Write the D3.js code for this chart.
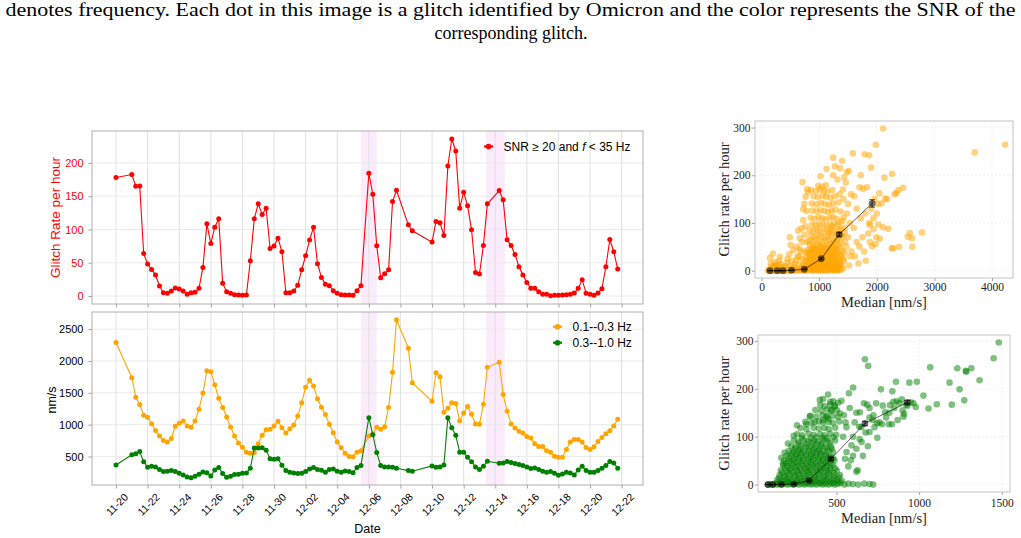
<!DOCTYPE html>
<html>
<head>
<meta charset="utf-8">
<script src="https://cdn.jsdelivr.net/npm/d3@7"></script>
<style>
  body { margin: 0; background: #fff; }
  svg { display: block; }
</style>
</head>
<body>
<div id="f1"></div>
<script>
const W = 1021;
const H = 538;

// ---------------- data ----------------
const captionLines = [
    "denotes frequency. Each dot in this image is a glitch identified by Omicron and the color represents the SNR of the",
    "corresponding glitch."
];

// sample times in days after 11-20 00:00 (6 h cadence, with gaps)
const sampleDays = [
    0,
    1, 1.25, 1.5, 1.75, 2, 2.25, 2.5, 2.75, 3, 3.25, 3.5, 3.75, 4, 4.25, 4.5, 4.75,
    5, 5.25, 5.5, 5.75, 6, 6.25, 6.5, 6.75, 7, 7.25, 7.5, 7.75, 8, 8.25, 8.5, 8.75,
    9, 9.25, 9.5, 9.75, 10, 10.25, 10.5, 10.75, 11, 11.25, 11.5, 11.75, 12, 12.25, 12.5, 12.75,
    13, 13.25, 13.5, 13.75, 14, 14.25, 14.5, 14.75, 15, 15.25, 15.5,
    16, 16.25, 16.5, 16.75, 17, 17.25, 17.5, 17.75,
    18.5, 18.75,
    20, 20.25, 20.5, 20.75, 21, 21.25, 21.5, 21.75, 22, 22.25, 22.5, 22.75, 23, 23.25, 23.5,
    24.25, 24.5, 24.75, 25, 25.25, 25.5, 25.75, 26, 26.25, 26.5, 26.75, 27, 27.25, 27.5, 27.75,
    28, 28.25, 28.5, 28.75, 29, 29.25, 29.5, 29.75, 30, 30.25, 30.5, 30.75, 31, 31.25, 31.5, 31.75
];

// glitch rate (SNR >= 20 and f < 35 Hz), per hour
const glitchRate = [
    178,
    182.5, 165, 165.5, 64, 48, 40, 31.5, 15, 5, 4, 7.5, 12, 10.5, 7.5, 2.5, 5,
    5.5, 11.5, 43, 108.5, 79, 103.5, 116, 19, 6.5, 4, 2, 1.5, 1, 1.5, 53, 116,
    138.5, 122.5, 132, 71.5, 75, 87, 66.5, 5, 5, 7.5, 16, 39.5, 60.5, 84, 103.5, 48.5,
    28, 17.5, 15.5, 8, 4, 2, 1.5, 1.5, 1, 8, 15.5,
    184.5, 153, 75.5, 27.5, 33.5, 39.5, 142, 159,
    107, 98,
    81, 112, 110, 91, 195.5, 236, 218, 132, 156, 135.5, 99.5, 35.5, 33, 76, 138.5,
    158.5, 144.5, 84.5, 76, 62.5, 44, 31.5, 20.5, 11.5, 11.5, 6.5, 2.5, 2.5, 0.5, 1,
    1, 1.5, 2, 2.5, 4.5, 11.5, 24.5, 4, 2.5, 1, 4.5, 11, 44, 85, 66.5, 40.5
];

// ground motion median, 0.1--0.3 Hz band (nm/s)
const medLow = [
    2289,
    1737, 1432, 1316, 1147, 1116, 1016, 910, 821, 753, 726, 784, 974, 1021, 1058, 979, 958,
    1058, 1242, 1495, 1847, 1832, 1626, 1416, 1268, 1121, 963, 821, 711, 647, 568, 553, 563,
    700, 832, 921, 926, 979, 1053, 953, 868, 937, 995, 1137, 1342, 1589, 1695, 1605, 1405,
    1274, 1158, 1005, 874, 726, 637, 553, 500, 495, 568, 590,
    821, 855, 958, 926, 968, 1268, 1821, 2647,
    2200, 1658,
    1368, 1816, 1753, 1195, 1258, 1342, 1332, 1063, 1184, 1284, 1163, 1011, 1005, 1321, 1900,
    1979, 1474, 1211, 1011, 947, 895, 868, 816, 789, 700, 658, 658, 589, 568, 505,
    489, 489, 611, 726, 768, 768, 726, 642, 611, 653, 737, 800, 858, 905, 979, 1084
];

// ground motion median, 0.3--1.0 Hz band (nm/s)
const medHigh = [
    368,
    526, 542, 579, 416, 332, 347, 337, 295, 263, 268, 279, 263, 237, 211, 179, 168,
    189, 221, 258, 247, 195, 289, 326, 232, 174, 189, 216, 221, 237, 242, 316, 632,
    632, 637, 600, 463, 458, 463, 363, 279, 253, 242, 232, 237, 263, 305, 326, 295,
    284, 253, 295, 305, 268, 253, 274, 263, 247, 326, 358,
    1110, 842, 563, 358, 337, 337, 332, 316,
    279, 268,
    353, 332, 337, 368, 1110, 953, 832, 568, 568, 489, 416, 337, 295, 347, 426,
    395, 400, 421, 405, 389, 374, 358, 337, 311, 321, 295, 268, 253, 263, 237,
    205, 226, 253, 242, 211, 289, 347, 279, 253, 253, 279, 316, 358, 421, 400, 316
];

const dateTicks = ["11-20", "11-22", "11-24", "11-26", "11-28", "11-30", "12-02", "12-04",
                   "12-06", "12-08", "12-10", "12-12", "12-14", "12-16", "12-18", "12-20", "12-22"];
const rateTicks = [0, 50, 100, 150, 200];
const nmTicks = [500, 1000, 1500, 2000, 2500];
// highlighted intervals, days after 11-20
const highlightDays = [[15.5, 16.5], [23.42, 24.6]];

const seriesNames = ["SNR \u2265 20 and ", "0.1--0.3 Hz", "0.3--1.0 Hz"];

// scatter: [median nm/s, glitch rate per hour], 0.1--0.3 Hz
const lowScatter = [
    [112,0],[128,2],[146,0],[168,1],[190,0],[214,2],[238,0],[262,1],[290,0],[318,2],[346,0],[372,1],
    [404,0],[432,2],[462,0],[488,1],[516,0],[546,3],[574,1],[604,0],[632,2],[662,1],[690,0],[718,3],
    [748,1],[776,0],[806,2],[834,4],[862,1],[892,0],[920,3],[950,1],[978,0],[1008,4],[1036,1],[1064,0],
    [1094,3],[1122,1],[1150,0],[1180,4],[1208,2],[1236,0],[1266,3],[1294,1],[1322,0],[1352,4],[1384,2],[1418,5],
    [170,8],[220,12],[275,6],[330,14],[390,7],[440,17],[500,9],[560,7],[600,22],[640,12],[680,6],[650,30],
    [145,27],[197,36],[318,29],[300,20],[160,15],[252,10],[205,6],[232,18],[280,12],[352,8],[420,10],[452,25],
    [480,35],[491,70],[503,54],[520,20],[549,43],[582,15],[607,50],[622,30],[665,45],[702,25],[722,14],[760,40],
    [680,40],[700,60],[742,75],[790,60],[665,68],[636,84],[694,89],[763,93],[723,106],[723,129],[742,140],[782,125],
    [711,186],[763,155],[792,171],[802,165],
    [705,3],[742,5],[785,3],[815,5],[845,2],[875,5],[905,3],[935,6],[965,4],[995,2],[1025,6],[1055,3],
    [1085,5],[1115,2],[1145,6],[1175,3],[1205,5],[1235,2],[1265,6],[1295,4],[1325,2],
    [725,11],[770,12],[838,11],[872,12],[905,10],[938,12],[972,11],[1005,10],[1041,12],[1075,11],[1112,10],
    [1146,12],[1178,11],[1212,10],[1246,12],[1280,11],[1318,10],[1352,12],
    [752,20],[812,19],[868,21],[925,20],[988,19],[1048,21],[1108,20],[1170,19],[1228,21],[1292,20],[1358,19],
    [772,29],[838,30],[898,28],[958,30],[1018,29],[1078,28],[1138,30],[1198,29],[1258,28],[1318,30],[1392,29],
    [791,38],[852,39],[912,37],[972,39],[1030,38],[1092,37],[1150,39],[1210,38],[1272,37],[1332,39],[1440,38],
    [872,48],[932,47],[992,49],[1052,48],[1112,47],[1172,49],[1232,48],[1298,47],[1372,49],
    [806,7],[858,9],[924,6],[981,8],[1037,10],[1104,7],[1158,9],[1219,6],[1283,8],[1338,10],
    [828,16],[893,14],[947,17],[1012,15],[1066,13],[1133,16],[1188,18],[1252,14],[1312,16],[1381,13],
    [792,23],[851,26],[912,24],[968,22],[1031,25],[1088,27],[1153,23],[1208,26],[1272,24],[1333,22],[1422,25],
    [821,35],[879,33],[942,36],[1002,34],[1058,32],[1121,35],[1183,37],[1241,33],[1302,35],[1363,32],
    [803,44],[862,42],[918,45],[983,43],[1041,41],[1098,44],[1162,46],[1221,42],[1284,44],[1402,41],
    [842,53],[903,51],[957,54],[1022,52],[1079,50],[1143,53],[1198,55],[1262,51],[1331,53],
    [818,63],[882,61],[938,64],[1003,62],[1062,60],[1118,63],[1181,65],[1243,61],[1302,63],[1452,60],
    [1250,58],[1320,66],[1370,60],[1410,72],[1440,80],[1380,88],[1310,78],[1350,100],[1400,104],[1230,92],[1180,80],
    [852,73],[908,71],[972,74],[1028,72],[1093,70],[1152,73],[1211,75],[1282,71],[1383,73],
    [831,85],[898,83],[962,86],[1018,84],[1082,82],[1141,85],[1203,87],[1258,83],[1342,85],
    [872,97],[938,95],[1003,98],[1061,96],[1122,94],[1188,97],[1252,99],[1318,95],
    [851,111],[922,109],[988,112],[1052,110],[1108,108],[1182,111],[1238,113],[1302,109],[1423,111],
    [883,126],[958,124],[1022,127],[1088,125],[1152,123],[1212,126],[1281,128],[1372,124],
    [868,141],[951,139],[1032,142],[1098,140],[1171,138],[1238,141],[1332,143],
    [902,156],[978,154],[1062,157],[1118,155],[1192,153],[1268,156],
    [858,169],[941,167],[1012,170],[1082,168],[1148,166],[1228,169],
    [982,178],[1052,176],[1118,179],
    [1400,230],[1360,215],[1460,185],[1550,160],[1500,140],[1410,170],[1350,160],[1420,150],[1480,120],[1530,100],
    [1450,90],[1500,70],[1470,50],[1540,30],[1430,20],[1600,90],[1650,60],[1750,70],[1850,78],[1560,40],
    [1620,30],[1700,50],[1780,40],[1880,60],[1650,130],[1720,110],[1800,120],[1870,100],[1940,110],[1607,156],
    [1700,175],[1760,172],[1830,175],[1900,130],[1960,150],[2000,120],[1720,200],
    [2110,298],[1983,264],[1584,246],[1786,244],[1867,242],[1243,237],[1902,216],[2266,203],[2133,195],[1127,213],
    [1272,219],[1514,209],[1243,200],[1318,191],[1434,196],[1480,207],[1023,198],[2144,151],[2341,163],[2376,169],
    [2306,160],[2457,174],[2017,140],[2080,141],[2046,162],[2180,150],[1879,96],[2029,97],[1942,87],[2110,91],
    [2200,88],[2052,67],[1990,70],[1919,51],[1977,56],[1809,21],[1682,15],[1520,11],[2786,80],[2572,79],
    [2538,71],[2613,68],[2618,50],[2260,47],[2290,47],[2387,50],[3700,248],[4230,264]
];

// scatter: [median nm/s, glitch rate per hour], 0.3--1.0 Hz
const highScatter = [
    [85,0],[98,1],[112,0],[126,2],[140,0],[155,1],[170,0],[186,2],[202,0],[218,1],[236,0],[254,2],
    [272,0],[290,1],[308,0],[326,2],[344,0],[362,1],[380,0],[398,2],[416,0],[434,1],[452,0],[470,2],
    [488,0],[506,1],[524,3],[548,0],[572,2],[600,1],[632,0],[668,2],[700,1],[722,0],
    [150,5],[178,4],[208,6],[233,4],[262,5],[292,6],[318,4],[348,5],[372,6],[402,4],[428,5],[458,6],[482,4],[512,5],
    [153,14],[184,15],[213,13],[247,15],[274,14],[306,13],[333,15],[366,14],[392,13],[426,15],[452,14],[487,13],[515,15],
    [171,25],[206,24],[238,26],[266,25],[298,24],[329,26],[360,25],[390,24],[421,26],[450,25],[484,24],
    [188,35],[221,34],[252,36],[281,35],[311,34],[341,36],[371,35],[401,34],[431,36],[461,35],[492,34],
    [196,45],[226,44],[256,46],[286,45],[316,44],[346,46],[376,45],[406,44],[436,46],[466,45],
    [210,55],[242,54],[270,56],[300,55],[330,54],[360,56],[390,55],[420,54],[450,56],[478,55],
    [226,65],[256,64],[286,66],[316,65],[346,64],[376,66],[406,65],[436,64],
    [248,75],[282,74],[328,76],[362,75],[397,74],[441,76],[470,75],
    [274,86],[318,85],[352,87],[381,86],[412,85],[458,87],
    [292,98],[344,97],[377,99],[414,98],[440,97],[482,99],
    [142,10],[168,8],[199,11],[228,9],[262,10],[288,8],[321,11],[349,9],[381,10],[412,8],[438,11],[471,9],[502,10],[532,8],
    [156,20],[183,18],[217,21],[244,19],[276,20],[303,18],[337,21],[364,19],[396,20],[423,18],[457,21],[484,19],[521,20],
    [163,30],[197,28],[223,31],[258,29],[284,30],[317,28],[343,31],[378,29],[404,30],[437,28],[463,31],[502,29],
    [177,40],[204,38],[238,41],[263,39],[297,40],[324,38],[357,41],[383,39],[417,40],[443,38],[478,41],
    [182,50],[212,48],[238,51],[272,49],[298,50],[332,48],[358,51],[392,49],[418,50],[452,48],[488,51],
    [197,60],[223,58],[257,61],[283,59],[317,60],[343,58],[377,61],[403,59],[437,60],[463,58],
    [212,70],[238,68],[272,71],[298,69],[332,70],[358,68],[392,71],[418,69],[452,70],[478,68],
    [227,80],[253,78],[287,81],[313,79],[347,80],[373,78],[407,81],[433,79],[467,80],
    [242,92],[268,90],[302,93],[328,91],[362,92],[388,90],[422,93],[448,91],[492,92],
    [262,105],[293,103],[332,106],[363,104],[402,105],[428,103],[462,106],[498,104],
    [282,118],[318,116],[362,119],[393,117],[427,118],[453,116],[492,119],
    [312,131],[348,129],[392,132],[418,130],[452,131],[478,129],[517,132],
    [342,144],[378,142],[417,145],[443,143],[477,144],[508,142],
    [372,156],[408,154],[442,157],[468,155],[502,156],
    [402,166],[428,164],[462,167],[488,165],
    [176,44],[186,67],[166,56],[241,102],[206,86],[261,124],[318,126],[338,142],[399,177],[419,179],
    [449,188],[462,173],[480,174],[510,171],[490,163],[520,149],[470,155],[439,142],[368,131],[419,135],[451,137],
    [672,262],[692,248],[1067,245],[1231,243],[1283,238],[1285,236],[1316,243],[1451,264],[1482,297],[1366,218],
    [1184,213],[1245,199],[1107,168],[1198,167],[1273,176],[1057,159],[1026,186],[986,215],[941,213],[860,215],
    [838,195],[769,199],[601,203],[575,191],[666,170],[686,167],[642,151],[719,135],[745,128],[747,98],
    [816,126],[836,126],[775,126],[921,167],[905,142],[909,148],[980,162],[966,170],[895,178],[864,174],
    [824,166],[794,151],[844,173],[723,145],[621,27],[551,54],[561,68],[591,82],[652,89],[676,109],
    [638,121],[628,30],[587,51],[571,38],
    [620,150],[700,160],[740,170],[780,165],[820,150],[850,160],[880,170],[900,155],[950,172],[930,165],
    [870,135],[800,140],[760,130],[650,120],[700,110],[600,100],[640,95],[690,80],[560,120],[540,100],
    [600,60],[620,75],[660,60],[545,145],[580,160],[530,175],[555,130],[610,130],[700,140],[730,120]
];

// binned means with error bars
const lowBinX = [145, 272, 370, 520, 740, 1035, 1347, 1919];
const lowBinY = [0, 0, 0, 1, 3, 25, 76, 141];
const lowBinErr = [0.3, 0.3, 0.3, 0.4, 0.6, 2, 4, 8];
const highBinX = [85, 115, 166, 243, 334, 466, 672, 929];
const highBinY = [0, 0, 0.5, 1, 8.4, 53.7, 127.7, 171.7];
const highBinErr = [0.3, 0.3, 0.3, 0.4, 1, 3, 4, 4];

const lowTicksX = [0, 1000, 2000, 3000, 4000];
const highTicksX = [500, 1000, 1500];
const scatterTicksY = [0, 100, 200, 300];

// ---------------- layout ----------------
const ctx = {
    sans: "'Liberation Sans', Arial, Helvetica, sans-serif",
    serif: "'Liberation Serif', 'Times New Roman', serif",
    spine: "#b0b0b0",
    grid: "#dedede",
    tick: "#8a8a8a",
    LEFT: 92,
    RIGHT: 643,
};

const START = new Date(2023, 10, 20);
function dayToDate(d){
    return d3.timeMinute.offset(START, Math.round(d * 1440));
}
const parseTick = d3.timeParse("%Y-%m-%d");
const fmtInt = d3.format("d");

function styleAxis(ax, color, font, size){
    ax.select(".domain").remove();
    ax.selectAll(".tick line").style("stroke", ctx.tick).style("stroke-width", 0.8);
    ax.selectAll("text")
      .style("font-family", font)
      .style("font-size", size)
      .style("fill", color);
}

function makeTimeFrame(svgEl, top, bottom, y, yTicks, labelColor, showDates){
    const g = svgEl.append("g");
    const x = ctx.x;
    g.selectAll(null).data(highlightDays).enter().append("rect")
     .attr("x", d => x(dayToDate(d[0])))
     .attr("width", d => x(dayToDate(d[1])) - x(dayToDate(d[0])))
     .attr("y", top).attr("height", bottom - top)
     .style("fill", "violet").style("fill-opacity", 0.16);
    g.selectAll(null).data(ctx.tickDates).enter().append("line")
     .attr("x1", d => x(d)).attr("x2", d => x(d))
     .attr("y1", top).attr("y2", bottom)
     .style("stroke", ctx.grid).style("stroke-width", 0.9);
    g.selectAll(null).data(yTicks).enter().append("line")
     .attr("x1", ctx.LEFT).attr("x2", ctx.RIGHT)
     .attr("y1", d => y(d)).attr("y2", d => y(d))
     .style("stroke", "#e6e6e6").style("stroke-width", 0.8);

    let ya = g.append("g").attr("transform", `translate(${ctx.LEFT},0)`)
              .call(d3.axisLeft(y).tickValues(yTicks).tickSize(3.5).tickPadding(5).tickFormat(fmtInt));
    styleAxis(ya, labelColor, ctx.sans, "11px");

    let xa = g.append("g").attr("transform", `translate(0,${bottom})`)
              .call(d3.axisBottom(x).tickValues(ctx.tickDates).tickSize(3.5)
                      .tickFormat(d3.timeFormat("%m-%d")));
    styleAxis(xa, "#000", ctx.sans, "10.5px");
    if(showDates){
        xa.selectAll("text")
          .attr("y", 0).attr("dy", "0.35em")
          .attr("transform", "translate(0.5,19.5) rotate(-45)")
          .style("text-anchor", "middle");
    } else {
        xa.selectAll("text").remove();
    }
    g.append("rect")
     .attr("x", ctx.LEFT).attr("y", top)
     .attr("width", ctx.RIGHT - ctx.LEFT).attr("height", bottom - top)
     .style("fill", "none").style("stroke", ctx.spine).style("stroke-width", 1);
    return g;
}

function addSeries(g, y, values, color){
    const pts = sampleDays.map((d, i) => ({t: dayToDate(d), v: values[i]}));
    const line = d3.line().x(d => ctx.x(d.t)).y(d => y(d.v));
    g.append("path").datum(pts)
     .attr("d", line)
     .style("fill", "none").style("stroke", color).style("stroke-width", 1.1);
    g.selectAll(null).data(pts).enter().append("circle")
     .attr("cx", d => ctx.x(d.t)).attr("cy", d => y(d.v))
     .attr("r", 2.5)
     .style("fill", color);
}

function legendEntry(g, x, y, color){
    g.append("line").attr("x1", x - 4.5).attr("x2", x + 4.5).attr("y1", y).attr("y2", y)
     .style("stroke", color).style("stroke-width", 2.2);
    g.append("circle").attr("cx", x).attr("cy", y).attr("r", 2.8).style("fill", color);
}

function makeTimePanels(svgEl){
    ctx.x = d3.scaleTime()
              .domain([dayToDate(-1.52), dayToDate(33.35)])
              .range([ctx.LEFT, ctx.RIGHT]);
    ctx.tickDates = dateTicks.map(s => parseTick("2023-" + s));

    // top: glitch rate
    const yRate = d3.scaleLinear().domain([-12, 248]).range([304, 131]);
    const gTop = makeTimeFrame(svgEl, 131, 304, yRate, rateTicks, "#ff0000", false);
    addSeries(gTop, yRate, glitchRate, "#ff0000");
    legendEntry(gTop, 488.5, 146.5, "#ff0000");
    let lt = gTop.append("text").attr("x", 503.5).attr("y", 150.8)
                 .style("font-family", ctx.sans).style("font-size", "12px").style("fill", "#000");
    lt.append("tspan").text(seriesNames[0]);
    lt.append("tspan").style("font-style", "italic").text("f");
    lt.append("tspan").text(" < 35 Hz");
    gTop.append("text")
        .attr("transform", "translate(60,217.5) rotate(-90)")
        .style("text-anchor", "middle")
        .style("font-family", ctx.sans).style("font-size", "13.5px").style("fill", "#ff0000")
        .text("Glitch Rate per hour");

    // bottom: ground motion
    const yNm = d3.scaleLinear().domain([53, 2768]).range([485, 312]);
    const gBot = makeTimeFrame(svgEl, 312, 485, yNm, nmTicks, "#000", true);
    addSeries(gBot, yNm, medLow, "#ffa500");
    addSeries(gBot, yNm, medHigh, "#008000");
    legendEntry(gBot, 557.5, 326.7, "#ffa500");
    legendEntry(gBot, 557.5, 342.7, "#008000");
    [[seriesNames[1], 331], [seriesNames[2], 347]].forEach(function(d){
        gBot.append("text").attr("x", 572.5).attr("y", d[1])
            .style("font-family", ctx.sans).style("font-size", "12px").text(d[0]);
    });
    gBot.append("text")
        .attr("transform", "translate(55.5,400) rotate(-90)")
        .style("text-anchor", "middle")
        .style("font-family", ctx.sans).style("font-size", "12.5px")
        .text("nm/s");
    gBot.append("text")
        .attr("x", (ctx.LEFT + ctx.RIGHT) / 2).attr("y", 533)
        .style("text-anchor", "middle")
        .style("font-family", ctx.sans).style("font-size", "12.5px")
        .text("Date");
}

function makeScatter(svgEl, s){
    const g = svgEl.append("g");
    const x = d3.scaleLinear().domain(s.xDomain).range([s.left, s.right]);
    const y = d3.scaleLinear().domain(s.yDomain).range([s.bottom, s.top]);

    g.selectAll(null).data(s.xTicks).enter().append("line")
     .attr("x1", d => x(d)).attr("x2", d => x(d)).attr("y1", s.top).attr("y2", s.bottom)
     .style("stroke", "#ececec").style("stroke-dasharray", "2,2").style("stroke-width", 0.8);
    g.selectAll(null).data(scatterTicksY).enter().append("line")
     .attr("x1", s.left).attr("x2", s.right).attr("y1", d => y(d)).attr("y2", d => y(d))
     .style("stroke", "#ececec").style("stroke-dasharray", "2,2").style("stroke-width", 0.8);

    g.selectAll(null).data(s.points).enter().append("circle")
     .attr("cx", d => x(d[0])).attr("cy", d => y(d[1]))
     .attr("r", 3.3)
     .style("fill", s.color).style("fill-opacity", 0.5);

    const bins = s.binX.map((v, i) => ({x: v, y: s.binY[i], e: s.binErr[i]}));
    g.append("path").datum(bins)
     .attr("d", d3.line().x(d => x(d.x)).y(d => y(d.y)))
     .style("fill", "none").style("stroke", "#000").style("stroke-opacity", 0.6).style("stroke-width", 1);
    g.selectAll(null).data(bins).enter().append("path")
     .attr("d", d => {
         const cx = x(d.x), y0 = y(d.y - d.e), y1 = y(d.y + d.e);
         return `M${cx},${y0}V${y1}M${cx - 3},${y0}H${cx + 3}M${cx - 3},${y1}H${cx + 3}`;
     })
     .style("stroke", "#000").style("stroke-opacity", 0.6).style("stroke-width", 1);
    g.selectAll(null).data(bins).enter().append("circle")
     .attr("cx", d => x(d.x)).attr("cy", d => y(d.y))
     .attr("r", 3.4)
     .style("fill", "#000").style("fill-opacity", 0.55);

    let xa = g.append("g").attr("transform", `translate(0,${s.bottom})`)
              .call(d3.axisBottom(x).tickValues(s.xTicks).tickSize(3).tickPadding(s.xPad).tickFormat(fmtInt));
    styleAxis(xa, "#222", ctx.serif, "11.5px");
    let ya = g.append("g").attr("transform", `translate(${s.left},0)`)
              .call(d3.axisLeft(y).tickValues(scatterTicksY).tickSize(3).tickPadding(1.5).tickFormat(fmtInt));
    styleAxis(ya, "#222", ctx.serif, "11.5px");

    g.append("rect")
     .attr("x", s.left).attr("y", s.top)
     .attr("width", s.right - s.left).attr("height", s.bottom - s.top)
     .style("fill", "none").style("stroke", "#c4c4c4").style("stroke-width", 1);

    g.append("text")
     .attr("transform", `translate(729,${(s.top + s.bottom) / 2}) rotate(-90)`)
     .style("text-anchor", "middle")
     .style("font-family", ctx.serif).style("font-size", "14.5px").style("fill", "#222")
     .text("Glitch rate per hour");
    g.append("text")
     .attr("x", (s.left + s.right) / 2).attr("y", s.labelY)
     .style("text-anchor", "middle")
     .style("font-family", ctx.serif).style("font-size", "14.5px").style("fill", "#222")
     .text("Median [nm/s]");
}

function makeCaption(svgEl){
    svgEl.append("text")
         .attr("x", 510.5).attr("y", 16)
         .attr("textLength", 1010).attr("lengthAdjust", "spacingAndGlyphs")
         .style("text-anchor", "middle")
         .style("font-family", ctx.serif).style("font-size", "18px")
         .text(captionLines[0]);
    svgEl.append("text")
         .attr("x", 511).attr("y", 39)
         .style("text-anchor", "middle")
         .style("font-family", ctx.serif).style("font-size", "18px")
         .text(captionLines[1]);
}

function createViz(){
    let svgEl = d3.select("#f1").append("svg");
    svgEl.attr("width", W).attr("height", H);
    svgEl.append("rect").attr("width", W).attr("height", H).style("fill", "#fff");

    makeCaption(svgEl);
    makeTimePanels(svgEl);
    makeScatter(svgEl, {
        left: 755, right: 1013, top: 121, bottom: 278,
        xDomain: [-115, 4365], yDomain: [-15.3, 313.8],
        xTicks: lowTicksX, xPad: 1.5, labelY: 306.5,
        points: lowScatter, color: "#ffa500",
        binX: lowBinX, binY: lowBinY, binErr: lowBinErr,
    });
    makeScatter(svgEl, {
        left: 758, right: 1010, top: 335, bottom: 492,
        xDomain: [25, 1550], yDomain: [-15.5, 312.6],
        xTicks: highTicksX, xPad: 4, labelY: 522.5,
        points: highScatter, color: "#008000",
        binX: highBinX, binY: highBinY, binErr: highBinErr,
    });
}

createViz();
</script>
</body>
</html>
